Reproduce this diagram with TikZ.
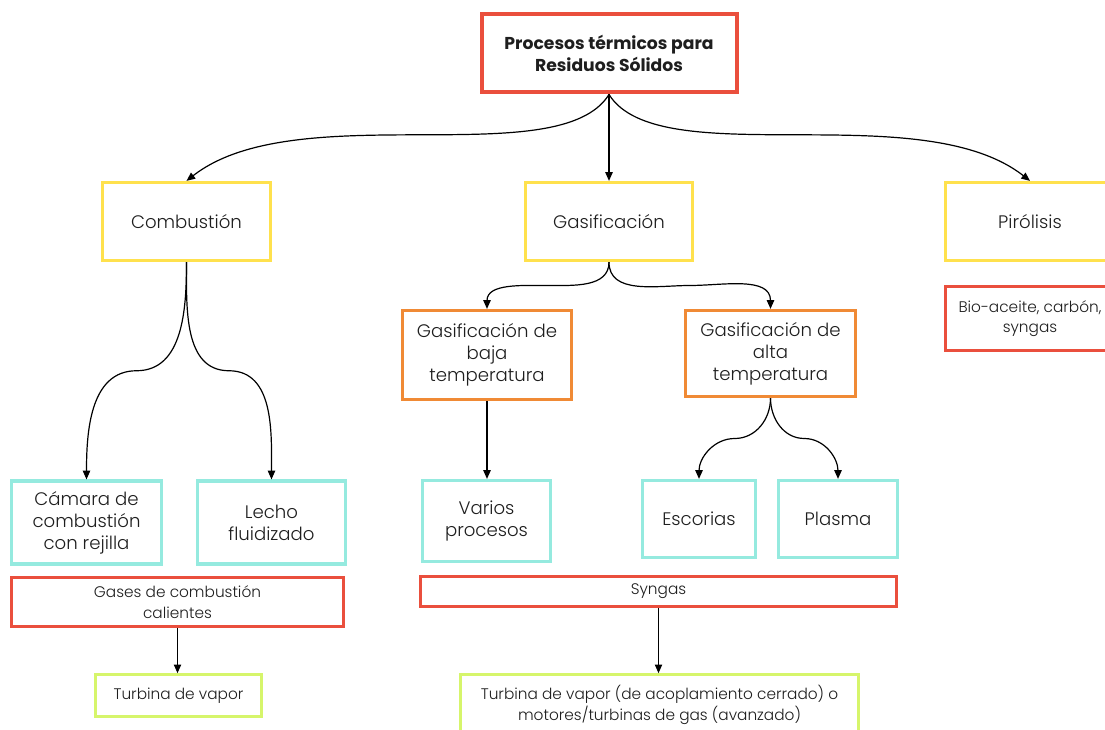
\documentclass[tikz,border=0pt]{standalone}
\usepackage{fontspec}
\setmainfont{Poppins}[UprightFont={* Light}, BoldFont={* Bold}]
\usetikzlibrary{arrows.meta,calc}
\definecolor{boxred}{HTML}{EA4F3D}
\definecolor{boxyellow}{HTML}{FFE14D}
\definecolor{boxorange}{HTML}{F08A35}
\definecolor{boxcyan}{HTML}{95EADF}
\definecolor{boxlime}{HTML}{D6F56B}
\definecolor{ink}{HTML}{1E1E1E}
\begin{document}
\begin{tikzpicture}[x=0.75pt,y=-0.75pt,
  wh/.style 2 args={minimum width={#1*0.75pt-2.25pt}, minimum height={#2*0.75pt-2.25pt}},
  base/.style={draw, align=center, inner sep=0pt, text=ink},
  bigtext/.style={font=\fontsize{13.6}{16.5}\selectfont},
  smalltext/.style={font=\fontsize{11.5}{15.5}\selectfont},
  titlebox/.style={base, line width=3pt, draw=boxred, font=\bfseries\fontsize{12.9}{16.5}\selectfont},
  levelbox/.style={base, bigtext, line width=2.4pt, draw=boxyellow},
  subbox/.style={base, bigtext, line width=2.4pt, draw=boxorange},
  leafbox/.style={base, bigtext, line width=2.4pt, draw=boxcyan},
  outbox/.style={base, smalltext, line width=2pt, draw=boxred},
  usebox/.style={base, smalltext, line width=2pt, draw=boxlime},
  conn/.style={draw=black, line width=0.9pt, -{Triangle[length=6.5pt,width=5.5pt]}}
]
\clip (0,0) rectangle (1105,730);
\fill[white] (0,0) rectangle (1105,730);

% boxes
\node[titlebox, wh={258}{81}] (title) at (609,53.5) {Procesos térmicos para\\Residuos Sólidos};
\node[levelbox, wh={171}{81}] (comb) at (186.5,221.5) {Combustión};
\node[levelbox, wh={170}{81}] (gas) at (609,221.5) {Gasificación};
\node[levelbox, wh={172}{81}] (pir) at (1030,221.5) {Pirólisis};
\node[outbox, wh={172}{67}] (bio) at (1030,318.5) {Bio-aceite, carbón,\\syngas};
\node[subbox, wh={172}{92}] (baja) at (487,355) {Gasificación de\\baja\\temperatura};
\node[subbox, wh={173}{89}] (alta) at (770.5,353.5) {Gasificación de\\alta\\temperatura};
\node[leafbox, wh={153}{86}] (cam) at (86.5,522.5) {Cámara de\\combustión\\con rejilla};
\node[leafbox, wh={151}{86}] (lecho) at (271.5,522.5) {Lecho\\fluidizado};
\node[leafbox, wh={131}{84}] (varios) at (486.5,521) {Varios\\procesos};
\node[leafbox, wh={116}{80}] (esc) at (699,519) {Escorias};
\node[leafbox, wh={122}{80}] (plasma) at (838,519) {Plasma};
\node[outbox, wh={335}{52}] (gases) at (177.5,602) {Gases de combustión\\calientes};
\node[usebox, wh={169}{45}] (turb1) at (178.5,695.5) {Turbina de vapor};
\node[outbox, wh={479}{33}] (syn) at (658.5,591.5) {Syngas};
\node[usebox, wh={401}{64}] (turb2) at (659.5,705) {Turbina de vapor (de acoplamiento cerrado) o\\motores/turbinas de gas (avanzado)};

% wide branches from the title: one smooth S-shaped curve each
\draw[conn] (title.south) .. controls +(-50,80) and +(110,-86) .. (comb.north);
\draw[conn] (title.south) -- (gas.north);
\draw[conn] (title.south) .. controls +(50,80) and +(-110,-86) .. (pir.north);
% lower branches: S-curves that turn horizontal halfway down
\draw[conn] (comb.south) to[out=-90,in=0] ($(comb.south)!0.5!(cam.north)$) to[out=180,in=90] (cam.north);
\draw[conn] (comb.south) to[out=-90,in=180] ($(comb.south)!0.5!(lecho.north)$) to[out=0,in=90] (lecho.north);
\draw[conn] (gas.south) to[out=-90,in=0] ($(gas.south)!0.5!(baja.north)$) to[out=180,in=90] (baja.north);
\draw[conn] (gas.south) to[out=-90,in=180] ($(gas.south)!0.5!(alta.north)$) to[out=0,in=90] (alta.north);
\draw[conn] (baja.south) -- (baja.south |- varios.north);
\draw[conn] (alta.south) to[out=-90,in=0] ($(alta.south)!0.5!(esc.north)$) to[out=180,in=90] (esc.north);
\draw[conn] (alta.south) to[out=-90,in=180] ($(alta.south)!0.5!(plasma.north)$) to[out=0,in=90] (plasma.north);
\draw[conn] (gases.south) -- (gases.south |- turb1.north);
\draw[conn] (syn.south) -- (syn.south |- turb2.north);
\end{tikzpicture}
\end{document}
